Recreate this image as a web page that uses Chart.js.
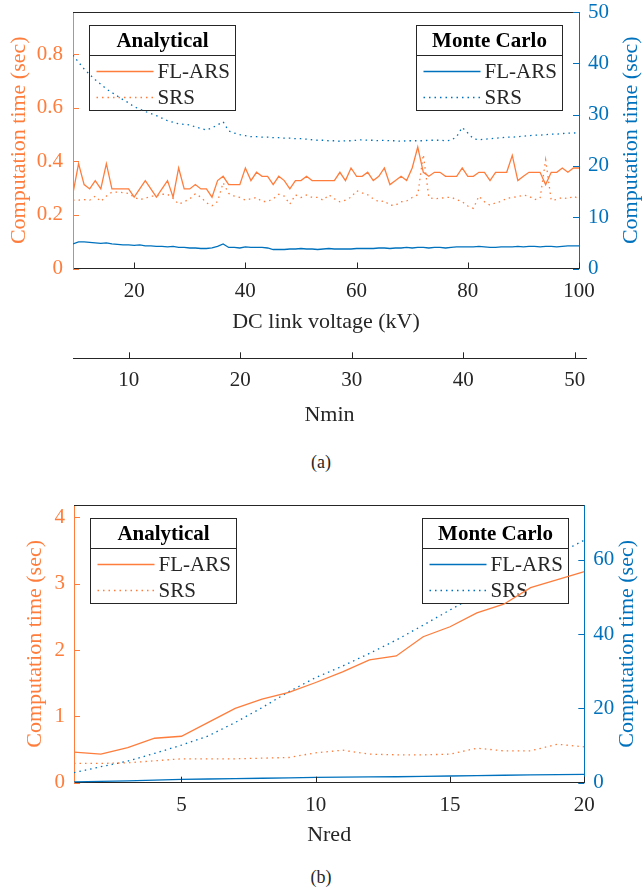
<!DOCTYPE html>
<html>
<head>
<meta charset="utf-8">
<script src="https://cdn.jsdelivr.net/npm/chart.js@4.4.1/dist/chart.umd.min.js"></script>
<style>
  body { margin: 0; background: #fff; }
  #page { position: relative; width: 642px; height: 892px; overflow: hidden; background: #fff; }
  canvas { position: absolute; left: 0; }
  .cap { position: absolute; left: 0; width: 642px; text-align: center; line-height: 20px;
         font: 18px "Liberation Serif", serif; color: #262626; }
</style>
</head>
<body>
<div id="page">
  <canvas id="voltage" width="642" height="333" style="top:0"></canvas>
  <canvas id="nmin" width="642" height="96" style="top:330px"></canvas>
  <div class="cap" style="top:452px">(a)</div>
  <canvas id="nred" width="642" height="366" style="top:480px"></canvas>
  <div class="cap" style="top:867px">(b)</div>
</div>
<script>
// (a) computation time vs DC link voltage
const voltageKV = [
  9, 10, 11, 12, 13, 14, 15, 16, 17, 18,
  19, 20, 21, 22, 23, 24, 25, 26, 27, 28,
  29, 30, 31, 32, 33, 34, 35, 36, 37, 38,
  39, 40, 41, 42, 43, 44, 45, 46, 47, 48,
  49, 50, 51, 52, 53, 54, 55, 56, 57, 58,
  59, 60, 61, 62, 63, 64, 65, 66, 67, 68,
  69, 70, 71, 72, 73, 74, 75, 76, 77, 78,
  79, 80, 81, 82, 83, 84, 85, 86, 87, 88,
  89, 90, 91, 92, 93, 94, 95, 96, 97, 98,
  99, 100
];
const analyticalFlars = [
  0.281, 0.391, 0.313, 0.297, 0.328, 0.297, 0.391, 0.297, 0.297, 0.297,
  0.297, 0.266, 0.297, 0.328, 0.297, 0.266, 0.297, 0.328, 0.266, 0.375,
  0.297, 0.297, 0.313, 0.297, 0.297, 0.266, 0.328, 0.344, 0.313, 0.313,
  0.313, 0.375, 0.328, 0.359, 0.344, 0.344, 0.313, 0.344, 0.328, 0.297,
  0.328, 0.328, 0.344, 0.328, 0.328, 0.328, 0.328, 0.328, 0.359, 0.328,
  0.375, 0.344, 0.344, 0.359, 0.328, 0.344, 0.375, 0.313, 0.328, 0.344,
  0.328, 0.375, 0.453, 0.359, 0.344, 0.359, 0.359, 0.344, 0.344, 0.344,
  0.375, 0.344, 0.344, 0.359, 0.359, 0.328, 0.359, 0.359, 0.359, 0.422,
  0.328, 0.344, 0.359, 0.359, 0.359, 0.313, 0.359, 0.359, 0.375, 0.359,
  0.375, 0.375
];
const analyticalSrs = [
  0.255, 0.255, 0.257, 0.255, 0.270, 0.250, 0.270, 0.285, 0.285, 0.283,
  0.280, 0.266, 0.257, 0.262, 0.270, 0.270, 0.277, 0.277, 0.262, 0.240,
  0.249, 0.260, 0.279, 0.266, 0.245, 0.234, 0.250, 0.320, 0.280, 0.270,
  0.265, 0.255, 0.260, 0.265, 0.250, 0.250, 0.260, 0.277, 0.270, 0.240,
  0.275, 0.265, 0.274, 0.265, 0.265, 0.255, 0.275, 0.260, 0.249, 0.255,
  0.266, 0.290, 0.282, 0.275, 0.260, 0.249, 0.252, 0.236, 0.236, 0.249,
  0.252, 0.265, 0.275, 0.425, 0.265, 0.260, 0.262, 0.265, 0.266, 0.257,
  0.249, 0.233, 0.224, 0.270, 0.249, 0.236, 0.245, 0.250, 0.262, 0.265,
  0.268, 0.274, 0.270, 0.257, 0.262, 0.405, 0.255, 0.257, 0.265, 0.260,
  0.270, 0.260
];
const monteCarloFlars = [
  4.8, 5.2, 5.2, 5.1, 5.0, 4.9, 5.0, 4.8, 4.7, 4.6,
  4.6, 4.5, 4.6, 4.4, 4.4, 4.3, 4.3, 4.2, 4.3, 4.1,
  4.1, 4.0, 4.0, 3.9, 3.9, 4.0, 4.3, 4.8, 4.1, 4.1,
  4.0, 4.2, 4.1, 4.1, 4.1, 4.0, 3.7, 3.7, 3.7, 3.8,
  3.8, 3.9, 3.8, 3.8, 3.7, 3.8, 3.9, 3.8, 3.8, 3.8,
  3.8, 3.9, 3.9, 3.9, 3.9, 4.0, 4.0, 3.9, 4.0, 4.0,
  4.1, 4.0, 4.1, 4.1, 4.0, 4.1, 4.1, 4.0, 4.1, 4.2,
  4.2, 4.2, 4.2, 4.3, 4.2, 4.1, 4.1, 4.2, 4.2, 4.2,
  4.3, 4.2, 4.3, 4.3, 4.2, 4.3, 4.3, 4.2, 4.3, 4.4,
  4.4, 4.4
];
const monteCarloSrs = [
  41.6, 40.2, 38.9, 37.8, 36.8, 35.9, 35.0, 34.3, 33.6, 32.9,
  32.3, 31.5, 31.1, 30.6, 30.2, 29.8, 29.3, 28.8, 28.5, 28.2,
  28.1, 28.0, 27.6, 27.3, 27.0, 27.4, 28.0, 28.6, 26.8, 26.4,
  26.1, 25.9, 25.7, 25.7, 25.6, 25.6, 25.5, 25.5, 25.4, 25.4,
  25.3, 25.3, 25.2, 25.1, 25.0, 25.0, 24.9, 24.9, 24.8, 24.9,
  24.9, 25.0, 25.1, 25.0, 25.0, 24.9, 25.0, 24.9, 24.9, 24.8,
  24.9, 24.9, 24.9, 24.9, 25.0, 25.0, 25.0, 24.9, 25.0, 25.7,
  27.5, 26.4, 25.3, 25.1, 25.2, 25.3, 25.4, 25.5, 25.6, 25.6,
  25.7, 25.8, 25.9, 26.0, 26.0, 26.1, 26.2, 26.2, 26.3, 26.4,
  26.4, 26.5
];
const voltageTicks = [20, 40, 60, 80, 100];
const voltageLeftTicks = [0, 0.2, 0.4, 0.6, 0.8];
const voltageRightTicks = [0, 10, 20, 30, 40, 50];
const nminTicks = [10, 20, 30, 40, 50];

// (b) computation time vs Nred
const nRed = [1, 2, 3, 4, 5, 6, 7, 8, 9, 10, 11, 12, 13, 14, 15, 16, 17, 18, 19, 20];
const redAnalyticalFlars = [0.46, 0.43, 0.53, 0.67, 0.70, 0.91, 1.12, 1.26, 1.36, 1.51,
                            1.67, 1.85, 1.91, 2.20, 2.35, 2.56, 2.69, 2.94, 3.06, 3.18];
const redAnalyticalSrs = [0.29, 0.29, 0.30, 0.33, 0.36, 0.36, 0.36, 0.37, 0.38, 0.45,
                          0.49, 0.43, 0.42, 0.42, 0.43, 0.52, 0.48, 0.48, 0.58, 0.54];
const redMonteCarloFlars = [0.2, 0.35, 0.5, 0.7, 0.9, 1.0, 1.1, 1.2, 1.3, 1.45,
                            1.5, 1.55, 1.6, 1.7, 1.8, 1.9, 2.0, 2.1, 2.2, 2.26];
const redMonteCarloSrs = [2.7, 4.3, 5.8, 7.9, 10.1, 12.6, 16.2, 20.2, 24.5, 28.3,
                          31.4, 34.8, 38.4, 42.4, 46.5, 50.5, 54.5, 58.0, 61.5, 65.3];
const nRedTicks = [5, 10, 15, 20];
const redLeftTicks = [0, 1, 2, 3, 4];
const redRightTicks = [0, 20, 40, 60];

const family = "'Liberation Serif', 'Times New Roman', serif";
const orange = '#FF7D3C';
const blue = '#0072BD';
const ink = '#262626';
const dotted = [1.5, 4];

function points(xs, ys) {
  return xs.map((x, i) => ({ x: x, y: ys[i] }));
}

function fixedTicks(values) {
  return scale => { scale.ticks = values.map(v => ({ value: v })); };
}

// axis sizes are fixed so the plot box lands in the same place every time
function xAxis(min, max, ticks, title, height) {
  return {
    type: 'linear', position: 'bottom', min: min, max: max,
    afterBuildTicks: fixedTicks(ticks),
    afterFit: s => { s.height = height; s.paddingLeft = 0; s.paddingRight = 0; },
    grid: { display: false, drawTicks: false },
    border: { display: true, color: ink, width: 1 },
    ticks: { color: ink, font: { family: family, size: 21, lineHeight: 1.2 }, padding: 10,
             maxRotation: 0, autoSkip: false, callback: v => String(v) },
    title: { display: true, text: title, color: ink,
             font: { family: family, size: 22, lineHeight: 1 }, padding: { top: 0, bottom: 0 } }
  };
}

function yAxis(side, max, ticks, width, color, pad, titlePad) {
  return {
    type: 'linear', position: side, min: 0, max: max,
    afterBuildTicks: fixedTicks(ticks),
    afterFit: s => { s.width = width; s.paddingTop = 0; s.paddingBottom = 0; },
    grid: { display: false, drawTicks: false },
    border: { display: true, color: color, width: 1 },
    ticks: { color: color, font: { family: family, size: 21 }, padding: pad,
             autoSkip: false, callback: v => String(v) },
    title: { display: side === 'left', text: 'Computation time (sec)', color: color,
             font: { family: family, size: 22, lineHeight: 1 }, padding: { top: titlePad, bottom: 0 } }
  };
}

function series(label, data, axis, color, dash, order) {
  return {
    label: label, data: data, yAxisID: axis,
    borderColor: color, backgroundColor: color, borderWidth: 1.3,
    borderDash: dash, borderCapStyle: 'butt',
    pointRadius: 0, tension: 0, order: order
  };
}

// inward tick marks, top edge of the box and the right-hand axis title
const axisFrame = {
  id: 'axisFrame',
  afterDraw(chart, args, opts) {
    const { ctx, chartArea: a } = chart;
    const len = 6;
    ctx.save();
    ctx.lineWidth = 1;
    if (opts.box) {
      ctx.strokeStyle = ink;
      ctx.beginPath();
      ctx.moveTo(a.left, Math.round(a.top) + 0.5);
      ctx.lineTo(a.right, Math.round(a.top) + 0.5);
      ctx.stroke();
    }
    Object.values(chart.scales).forEach(scale => {
      if (!scale.options.display) return;
      ctx.strokeStyle = scale.options.border.color;
      ctx.beginPath();
      scale.ticks.forEach(t => {
        const p = Math.round(scale.getPixelForValue(t.value)) + 0.5;
        if (scale.isHorizontal()) {
          ctx.moveTo(p, scale.top); ctx.lineTo(p, scale.top - len);
        } else if (scale.position === 'left') {
          ctx.moveTo(scale.right, p); ctx.lineTo(scale.right + len, p);
        } else {
          ctx.moveTo(scale.left, p); ctx.lineTo(scale.left - len, p);
        }
      });
      ctx.stroke();
    });
    if (opts.rightTitle) {
      ctx.translate(opts.rightTitle.x, (a.top + a.bottom) / 2);
      ctx.rotate(-Math.PI / 2);
      ctx.fillStyle = blue;
      ctx.font = '22px ' + family;
      ctx.textAlign = 'center';
      ctx.textBaseline = 'middle';
      ctx.fillText(opts.rightTitle.text, 0, 0);
    }
    ctx.restore();
  }
};

// two framed legends, each with a bold heading row
function drawLegendBox(chart, g) {
  const { ctx, chartArea: a } = chart;
  const w = 146, h = 85;
  const x0 = Math.round(g.side === 'left' ? a.left + g.inset : a.right - g.inset - w) + 0.5;
  const y0 = Math.round(a.top + 13) + 0.5;
  ctx.save();
  ctx.fillStyle = '#fff';
  ctx.fillRect(x0, y0, w, h);
  ctx.strokeStyle = ink;
  ctx.lineWidth = 1;
  ctx.strokeRect(x0, y0, w, h);
  ctx.beginPath();
  ctx.moveTo(x0, y0 + 30); ctx.lineTo(x0 + w, y0 + 30);
  ctx.stroke();
  ctx.fillStyle = '#000';
  ctx.font = 'bold 21px ' + family;
  ctx.textAlign = 'center';
  ctx.textBaseline = 'middle';
  ctx.fillText(g.title, x0 + w / 2, y0 + 16);
  ctx.font = '21px ' + family;
  ctx.textAlign = 'left';
  g.datasets.forEach((di, i) => {
    const ds = chart.data.datasets[di];
    const y = Math.round(y0 + 45 + i * 26) + 0.5;
    ctx.save();
    ctx.strokeStyle = ds.borderColor;
    ctx.lineWidth = ds.borderWidth;
    ctx.setLineDash(ds.borderDash || []);
    ctx.beginPath();
    ctx.moveTo(x0 + 7, y); ctx.lineTo(x0 + 64, y);
    ctx.stroke();
    ctx.restore();
    ctx.fillStyle = ink;
    ctx.fillText(ds.label, x0 + 68, y + 1);
  });
  ctx.restore();
}

const legendBoxes = {
  id: 'legendBoxes',
  beforeDatasetsDraw(chart, args, opts) {
    opts.groups.filter(g => g.under === 'all').forEach(g => drawLegendBox(chart, g));
  },
  beforeDatasetDraw(chart, args, opts) {
    opts.groups.filter(g => g.under === args.index).forEach(g => drawLegendBox(chart, g));
  }
};

const common = {
  responsive: false,
  animation: false,
  devicePixelRatio: 1,
  events: []
};

new Chart(document.getElementById('voltage'), {
  type: 'line',
  data: {
    datasets: [
      series('FL-ARS', points(voltageKV, analyticalFlars), 'y', orange, [], 1),
      series('SRS', points(voltageKV, analyticalSrs), 'y', orange, dotted, 1),
      series('FL-ARS', points(voltageKV, monteCarloFlars), 'yR', blue, [], 2),
      series('SRS', points(voltageKV, monteCarloSrs), 'yR', blue, dotted, 2)
    ]
  },
  options: Object.assign({}, common, {
    layout: { padding: { top: 12, left: 0, right: 0, bottom: 0 } },
    scales: {
      x: xAxis(9, 100, voltageTicks, 'DC link voltage (kV)', 64.5),
      y: yAxis('left', 0.957, voltageLeftTicks, 73, orange, 10, 8),
      yR: yAxis('right', 50, voltageRightTicks, 63, blue, 9, 0)
    },
    plugins: {
      legend: { display: false },
      tooltip: { enabled: false },
      axisFrame: { box: true, rightTitle: { text: 'Computation time (sec)', x: 631 } },
      legendBoxes: { groups: [
        { title: 'Analytical', datasets: [0, 1], side: 'left', inset: 16, under: 'all' },
        { title: 'Monte Carlo', datasets: [2, 3], side: 'right', inset: 17, under: 1 }
      ] }
    }
  }),
  plugins: [axisFrame, legendBoxes]
});

// secondary horizontal axis for Nmin, drawn on its own below (a)
new Chart(document.getElementById('nmin'), {
  type: 'line',
  data: { datasets: [] },
  options: Object.assign({}, common, {
    layout: { padding: { top: 0, left: 73, right: 56, bottom: 0 } },
    scales: {
      x: xAxis(5, 51, nminTicks, 'Nmin', 67.7),
      y: { display: false, min: 0, max: 1 }
    },
    plugins: {
      legend: { display: false },
      tooltip: { enabled: false },
      axisFrame: { box: false }
    }
  }),
  plugins: [axisFrame]
});

new Chart(document.getElementById('nred'), {
  type: 'line',
  data: {
    datasets: [
      series('FL-ARS', points(nRed, redAnalyticalFlars), 'y', orange, [], 1),
      series('SRS', points(nRed, redAnalyticalSrs), 'y', orange, dotted, 1),
      series('FL-ARS', points(nRed, redMonteCarloFlars), 'yR', blue, [], 2),
      series('SRS', points(nRed, redMonteCarloSrs), 'yR', blue, dotted, 2)
    ]
  },
  options: Object.assign({}, common, {
    layout: { padding: { top: 25, left: 0, right: 0, bottom: 0 } },
    scales: {
      x: xAxis(1, 20, nRedTicks, 'Nred', 63.3),
      y: yAxis('left', 4.185, redLeftTicks, 74, orange, 9, 24),
      yR: yAxis('right', 74.75, redRightTicks, 57.7, blue, 9, 0)
    },
    plugins: {
      legend: { display: false },
      tooltip: { enabled: false },
      axisFrame: { box: true, rightTitle: { text: 'Computation time (sec)', x: 627 } },
      legendBoxes: { groups: [
        { title: 'Analytical', datasets: [0, 1], side: 'left', inset: 16, under: 'all' },
        { title: 'Monte Carlo', datasets: [2, 3], side: 'right', inset: 16, under: 1 }
      ] }
    }
  }),
  plugins: [axisFrame, legendBoxes]
});
</script>
</body>
</html>
